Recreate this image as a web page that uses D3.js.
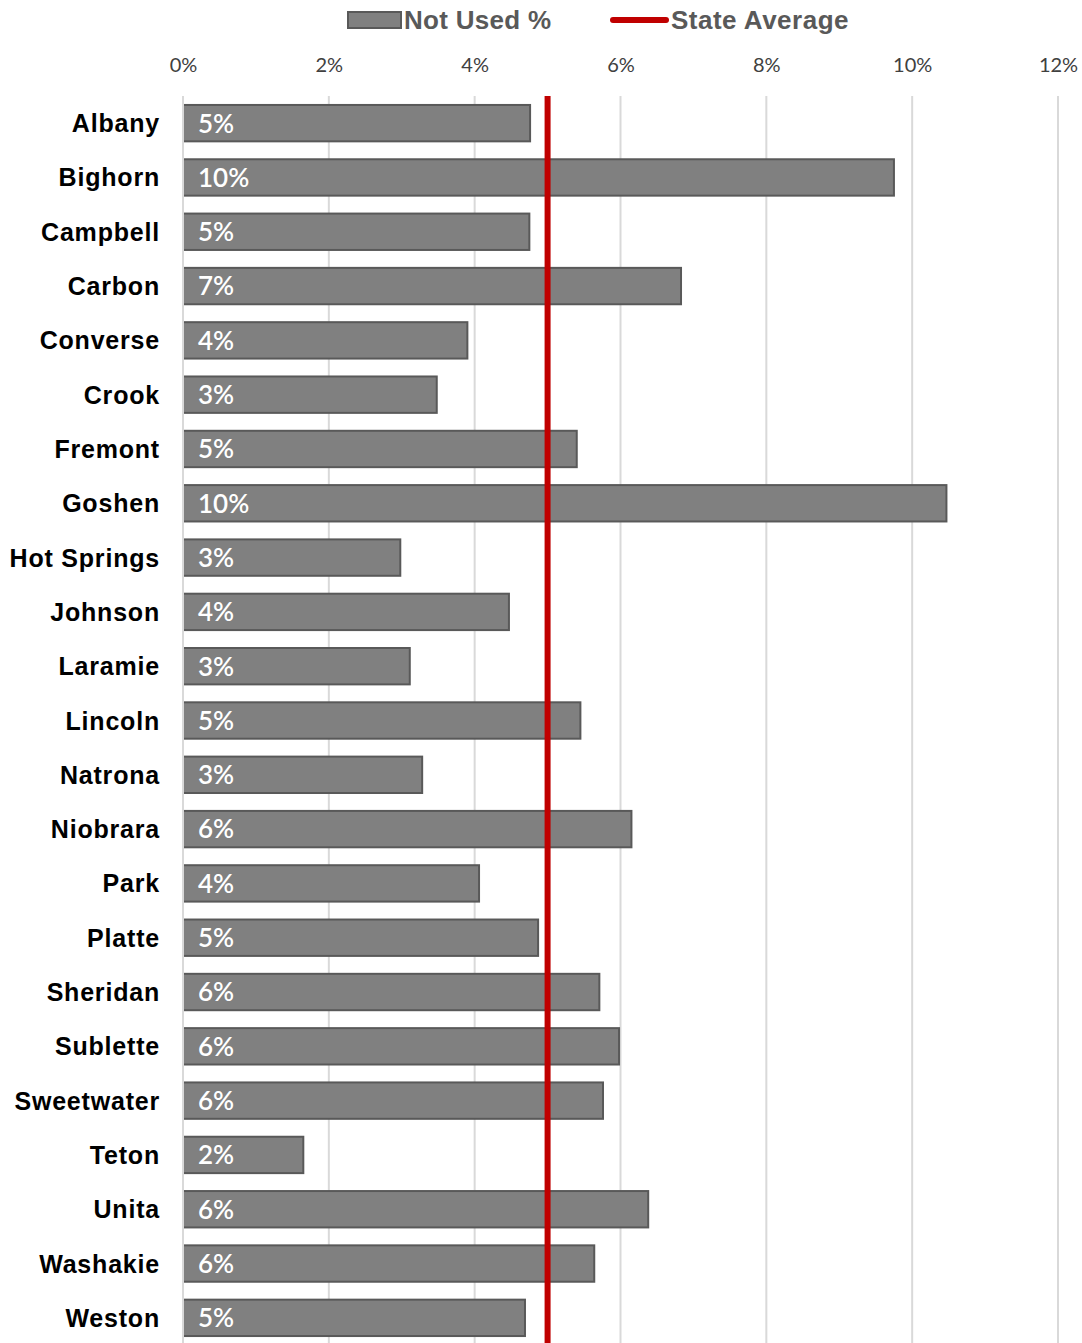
<!DOCTYPE html>
<html>
  <head>
    <meta charset="utf-8">
    <script src="https://d3js.org/d3.v7.min.js"></script>
    <style>
      body { margin: 0; background: #fff; }
      svg { display: block; }
    </style>
  </head>
  <body>
    <script>
      var counties = ['Albany','Bighorn','Campbell','Carbon','Converse','Crook','Fremont','Goshen',
        'Hot Springs','Johnson','Laramie','Lincoln','Natrona','Niobrara','Park','Platte','Sheridan',
        'Sublette','Sweetwater','Teton','Unita','Washakie','Weston'];
      var notUsed = [4.76, 9.75, 4.75, 6.83, 3.90, 3.48, 5.40, 10.47, 2.98, 4.47, 3.11, 5.45, 3.28,
        6.15, 4.06, 4.87, 5.71, 5.98, 5.76, 1.65, 6.38, 5.64, 4.69];
      var stateAverage = 5.0;
      var xTicks = [0, 2, 4, 6, 8, 10, 12];

      var width = 1082, height = 1343;
      var plotLeft = 183, plotRight = 1058, plotTop = 96, plotBottom = 1345;

      var svg = d3.select('body').append('svg')
        .attr('width', width)
        .attr('height', height);

      var x = d3.scaleLinear().domain([0, 12]).range([plotLeft, plotRight]);
      var y = d3.scaleBand().domain(counties).range([plotTop, plotBottom]).paddingInner(0.33).paddingOuter(0.165);

      // gridlines
      svg.append('g').selectAll('line')
        .data(xTicks)
        .enter().append('line')
          .attr('x1', function(d){ return x(d); })
          .attr('x2', function(d){ return x(d); })
          .attr('y1', plotTop)
          .attr('y2', height)
          .attr('stroke', '#d9d9d9')
          .attr('stroke-width', 2);

      // top axis labels
      var xAxis = svg.append('g')
        .attr('transform', 'translate(0,' + 72 + ')')
        .call(d3.axisTop(x).tickValues(xTicks).tickSize(0).tickPadding(0)
          .tickFormat(function(d){ return d + '%'; }));
      xAxis.select('.domain').remove();
      xAxis.selectAll('text')
        .style('font-family', 'Lato, "Open Sans", sans-serif')
        .style('font-size', '20px')
        .attr('fill', '#404040');

      // bars
      var bars = svg.append('g').selectAll('g')
        .data(counties)
        .enter().append('g');

      bars.append('rect')
        .attr('x', x(0))
        .attr('y', function(d){ return y(d); })
        .attr('width', function(d, i){ return x(notUsed[i]) - x(0); })
        .attr('height', y.bandwidth())
        .attr('fill', '#808080')
        .attr('stroke', '#595959')
        .attr('stroke-width', 2);

      bars.append('text')
        .attr('x', x(0) + 15)
        .attr('y', function(d){ return y(d) + y.bandwidth() / 2; })
        .attr('dy', '0.36em')
        .style('font-family', 'Lato, "Open Sans", sans-serif')
        .style('font-size', '26px')
        .style('font-weight', '600')
        .attr('fill', '#fff')
        .text(function(d, i){ return Math.round(notUsed[i]) + '%'; });

      // category labels
      bars.append('text')
        .attr('x', x(0) - 23)
        .attr('y', function(d){ return y(d) + y.bandwidth() / 2; })
        .attr('dy', '0.36em')
        .attr('text-anchor', 'end')
        .style('font-family', '"Liberation Sans", Arial, sans-serif')
        .style('font-weight', 'bold')
        .style('font-size', '25px')
        .style('letter-spacing', '0.8px')
        .attr('fill', '#000')
        .text(function(d){ return d; });

      // left axis line
      svg.append('line')
        .attr('x1', x(0)).attr('x2', x(0))
        .attr('y1', plotTop).attr('y2', height)
        .attr('stroke', '#d9d9d9')
        .attr('stroke-width', 2);

      // state average line
      svg.append('line')
        .attr('x1', x(stateAverage)).attr('x2', x(stateAverage))
        .attr('y1', plotTop).attr('y2', height)
        .attr('stroke', '#c00000')
        .attr('stroke-width', 6);

      // legend
      var legend = svg.append('g');
      legend.append('rect')
        .attr('x', 348).attr('y', 12)
        .attr('width', 53).attr('height', 16)
        .attr('fill', '#808080')
        .attr('stroke', '#595959')
        .attr('stroke-width', 2);
      legend.append('text')
        .attr('x', 404).attr('y', 20).attr('dy', '0.36em')
        .style('font-family', '"Liberation Sans", Arial, sans-serif')
        .style('font-weight', 'bold')
        .style('font-size', '26px')
        .style('letter-spacing', '0.3px')
        .attr('fill', '#595959')
        .text('Not Used %');
      legend.append('line')
        .attr('x1', 613).attr('x2', 666)
        .attr('y1', 20).attr('y2', 20)
        .attr('stroke', '#c00000')
        .attr('stroke-width', 6)
        .attr('stroke-linecap', 'round');
      legend.append('text')
        .attr('x', 671).attr('y', 20).attr('dy', '0.36em')
        .style('font-family', '"Liberation Sans", Arial, sans-serif')
        .style('font-weight', 'bold')
        .style('font-size', '26px')
        .style('letter-spacing', '0.5px')
        .attr('fill', '#595959')
        .text('State Average');
    </script>
  </body>
</html>
